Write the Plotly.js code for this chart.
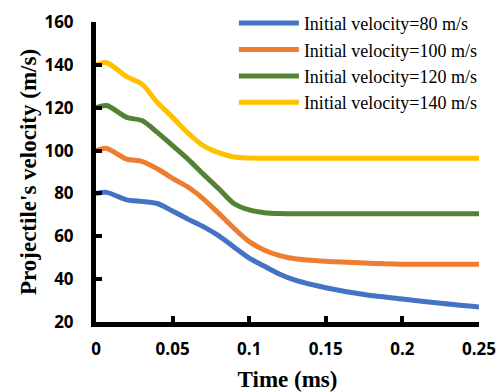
<!DOCTYPE html>
<html>
<head>
<meta charset="utf-8">
<script src="https://cdn.plot.ly/plotly-3.0.1.min.js"></script>
<style>html,body{margin:0;padding:0;background:#fff;}#chart{width:497px;height:392px;}</style>
</head>
<body>
<div id="chart"></div>
<script>
var time = [0, 0.007, 0.02, 0.03, 0.04, 0.05, 0.06, 0.07, 0.08, 0.09, 0.1, 0.11, 0.12, 0.13, 0.15, 0.175, 0.2, 0.225, 0.25];
var v80  = [80, 80.5, 77, 76.3, 75.3, 71.8, 68, 64.5, 60.3, 55, 49.8, 46, 42.3, 39.5, 36, 32.8, 30.7, 28.7, 27];
var v100 = [100, 101, 96, 95, 91.5, 87, 83, 77.5, 70.8, 63.8, 57.5, 53.5, 51, 49.5, 48.3, 47.5, 47, 47, 47];
var v120 = [120, 121, 115.5, 114, 108.5, 102.3, 96, 89, 82.3, 75.3, 72.3, 71, 70.6, 70.5, 70.5, 70.5, 70.5, 70.5, 70.5];
var v140 = [140, 141, 134.5, 131, 122.5, 115.5, 108.2, 102.3, 99, 97, 96.5, 96.4, 96.4, 96.4, 96.4, 96.4, 96.4, 96.4, 96.4];
var names = ["Initial velocity=80 m/s", "Initial velocity=100 m/s", "Initial velocity=120 m/s", "Initial velocity=140 m/s"];
var colors = ["#4472C4", "#ED7D31", "#548235", "#FFC000"];
var series = [v80, v100, v120, v140];
var xTicks = [0, 0.05, 0.1, 0.15, 0.2, 0.25];
var xTickText = ["0", "0.05", "0.1", "0.15", "0.2", "0.25"];
var yTicks = [20, 40, 60, 80, 100, 120, 140, 160];

var traces = series.map(function(s, i){
  return {x: time, y: s, type: 'scatter', mode: 'lines', name: names[i],
    line: {color: colors[i], width: 5, shape: 'spline', smoothing: 0.8}};
});

var tickFont = {family: "Open Sans, sans-serif", size: 17, color: "#000", weight: "bold"};
var titleFont = {family: "Liberation Serif, Times New Roman, serif", size: 23, color: "#000", weight: "bold"};

var layout = {
  width: 497, height: 392,
  margin: {l: 96, r: 18, t: 22, b: 70, autoexpand: false},
  paper_bgcolor: "#fff", plot_bgcolor: "#fff",
  showlegend: true,
  legend: {x: 0.36, y: 1.057, xanchor: 'left', yanchor: 'top', bgcolor: 'rgba(0,0,0,0)',
    font: {family: "Liberation Serif, Times New Roman, serif", size: 18, color: "#000"},
    itemwidth: 60, tracegroupgap: 0},
  xaxis: {range: [0, 0.25], tickvals: xTicks, ticktext: xTickText, ticks: 'inside', ticklen: 6, tickwidth: 4,
    tickcolor: '#000', showline: true, linecolor: '#000', linewidth: 5, showgrid: false, zeroline: false,
    tickfont: tickFont, ticklabelstandoff: 8, automargin: false,
    title: {text: "Time (ms)", font: titleFont}},
  yaxis: {range: [20, 160], tickvals: yTicks, ticks: 'inside', ticklen: 6, tickwidth: 4,
    tickcolor: '#000', showline: true, linecolor: '#000', linewidth: 5, showgrid: false, zeroline: false,
    tickfont: tickFont, ticklabelstandoff: 14, automargin: false,
    title: {text: "Projectile's velocity (m/s)", font: titleFont}}
};

Plotly.newPlot('chart', traces, layout, {displayModeBar: false, staticPlot: true});
</script>
</body>
</html>
